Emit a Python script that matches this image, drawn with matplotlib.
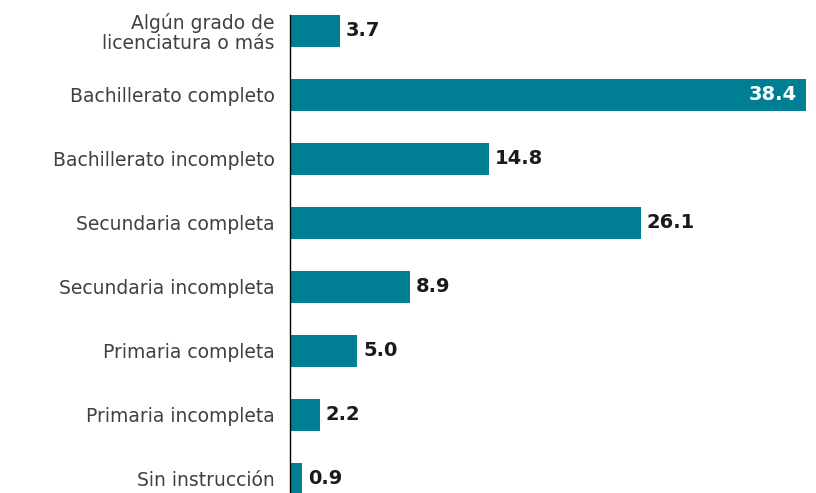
import matplotlib.pyplot as plt

categorias = ["Sin instrucción", "Primaria incompleta", "Primaria completa",
              "Secundaria incompleta", "Secundaria completa",
              "Bachillerato incompleto", "Bachillerato completo",
              "Algún grado de\nlicenciatura o más"]
porcentajes = [0.9, 2.2, 5.0, 8.9, 26.1, 14.8, 38.4, 3.7]

color_barra = "#007E93"

fig = plt.figure(figsize=(8.16, 4.93), dpi=100)
ax = fig.add_axes([290 / 816, 0, 516 / 816, 1 - 15 / 493])

pos = list(range(len(categorias)))
bars = ax.barh(pos, porcentajes, height=0.5, color=color_barra)

ax.set_xlim(0, max(porcentajes))
ax.set_ylim(-0.22, 7.25)

# Etiquetas de valores
for bar, val in zip(bars, porcentajes):
    y = bar.get_y() + bar.get_height() / 2
    if val == max(porcentajes):
        ax.text(val - 0.65, y, f"{val:.1f}", ha="right", va="center",
                color="white", fontsize=14, fontweight="bold")
    else:
        ax.text(val + 0.45, y, f"{val:.1f}", ha="left", va="center",
                color="#1a1a1a", fontsize=14, fontweight="bold")

ax.set_yticks(pos)
ax.set_yticklabels(categorias, fontsize=13.5, color="#404040",
                   linespacing=1.05, ha="right")
ax.tick_params(axis="y", length=0, pad=11)
ax.set_xticks([])

for s in ["top", "right", "bottom"]:
    ax.spines[s].set_visible(False)
ax.spines["left"].set_color("black")
ax.spines["left"].set_linewidth(1)

fig.savefig("out.png", dpi=100)
